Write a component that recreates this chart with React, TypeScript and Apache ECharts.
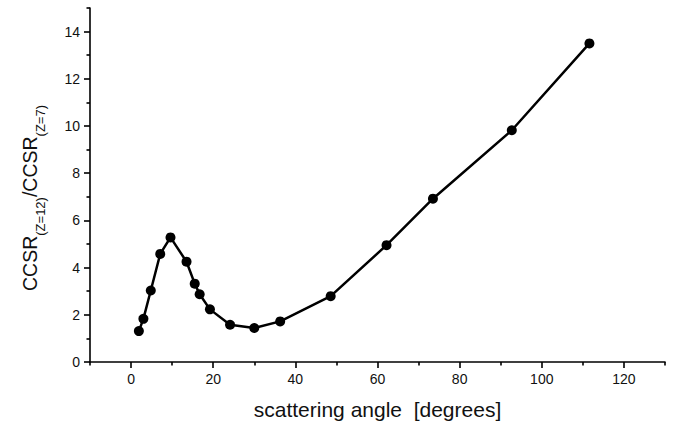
import React, { useEffect, useRef } from 'react';
import * as echarts from 'echarts';

const angles = [1.9, 3.0, 4.8, 7.1, 9.6, 13.5, 15.5, 16.7, 19.2, 24.1, 30.0, 36.3, 48.6, 62.2, 73.5, 92.7, 111.6];
const ratios = [1.31, 1.83, 3.03, 4.58, 5.28, 4.25, 3.32, 2.87, 2.23, 1.58, 1.44, 1.72, 2.79, 4.95, 6.92, 9.82, 13.5];
const xMajorTicks = [0, 20, 40, 60, 80, 100, 120];
const xMinorTicks = [-10, 10, 30, 50, 70, 90, 110, 130];
const yMajorTicks = [0, 2, 4, 6, 8, 10, 12, 14];
const yMinorTicks = [1, 3, 5, 7, 9, 11, 13, 15];
const xTitle = 'scattering angle  [degrees]';
const yTitle = '{m|CCSR}{s|(Z=12)}{m|/CCSR}{s|(Z=7)}';

const FONT = '"Liberation Sans", Arial, sans-serif';

export default function App() {
  const ref = useRef<HTMLDivElement>(null);
  useEffect(() => {
    if (!ref.current) return;
    const chart = echarts.init(ref.current, undefined, { renderer: 'svg' });
    const data = angles.map((a, i) => [a, ratios[i]]);
    const lineStyle = { color: '#000', width: 1.6 };
    chart.setOption({
      animation: false,
      backgroundColor: '#fff',
      grid: { left: 90, right: 9, top: 8, bottom: 67 },
      xAxis: [
        {
          type: 'value', min: -10, max: 130, position: 'bottom',
          axisLine: { show: true, onZero: false, lineStyle },
          axisTick: { show: true, length: 6, customValues: xMajorTicks, lineStyle },
          axisLabel: { customValues: xMajorTicks, color: '#111', fontSize: 14, fontFamily: FONT, margin: 10 },
          splitLine: { show: false },
          name: xTitle, nameLocation: 'middle', nameGap: 37,
          nameTextStyle: { fontSize: 21, fontFamily: FONT, color: '#111' },
        },
        {
          type: 'value', min: -10, max: 130, position: 'bottom',
          axisLine: { show: false, onZero: false },
          axisTick: { show: true, length: 3.5, customValues: xMinorTicks, lineStyle },
          axisLabel: { show: false },
          splitLine: { show: false },
        },
      ],
      yAxis: [
        {
          type: 'value', min: 0, max: 15, position: 'left',
          axisLine: { show: true, onZero: false, lineStyle },
          axisTick: { show: true, length: 6, customValues: yMajorTicks, lineStyle },
          axisLabel: { customValues: yMajorTicks, color: '#111', fontSize: 14, fontFamily: FONT, margin: 10 },
          splitLine: { show: false },
        },
        {
          type: 'value', min: 0, max: 15, position: 'left',
          axisLine: { show: false, onZero: false },
          axisTick: { show: true, length: 3.5, customValues: yMinorTicks, lineStyle },
          axisLabel: { show: false },
          splitLine: { show: false },
        },
      ],
      graphic: [
        {
          type: 'text',
          x: 29.5,
          y: 198,
          rotation: Math.PI / 2,
          style: {
            text: yTitle,
            align: 'center',
            verticalAlign: 'middle',
            fill: '#111',
            font: `19.5px ${FONT}`,
            rich: {
              m: { fontSize: 19.5, lineHeight: 20, verticalAlign: 'top', fontFamily: FONT, fill: '#111' },
              s: { fontSize: 13, lineHeight: 13, padding: [14, 0, 0, 0], verticalAlign: 'top', fontFamily: FONT, fill: '#111' },
            },
          },
        },
      ],
      series: [
        {
          type: 'line', xAxisIndex: 0, yAxisIndex: 0, data,
          symbol: 'circle', symbolSize: 10,
          itemStyle: { color: '#000' },
          lineStyle: { color: '#000', width: 2.5 },
        },
      ],
    });
    return () => chart.dispose();
  }, []);
  return <div ref={ref} style={{ position: 'fixed', left: 0, top: 0, width: 674, height: 429 }} />;
}
